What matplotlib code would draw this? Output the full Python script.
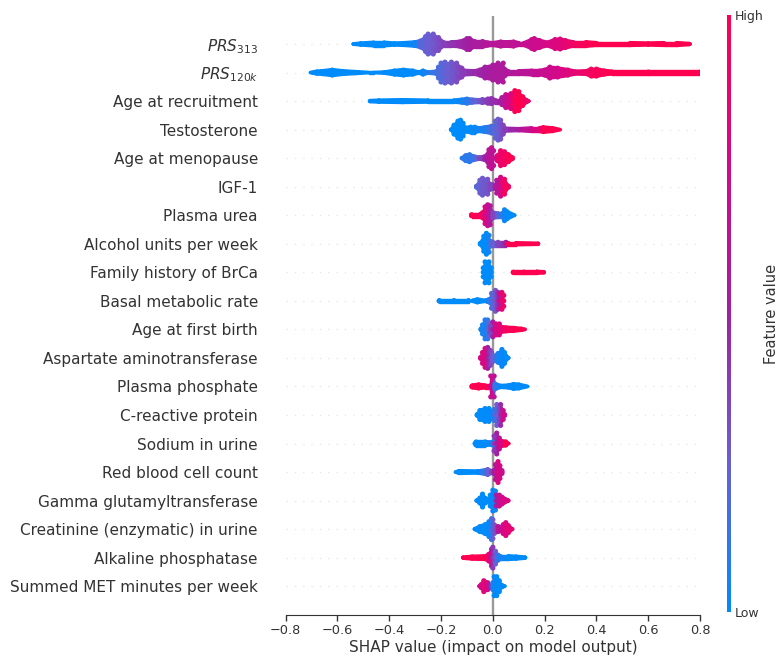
import matplotlib
matplotlib.use("Agg")
import matplotlib.pyplot as plt
import numpy as np
from matplotlib.collections import PolyCollection
from matplotlib.colors import LinearSegmentedColormap, Normalize
from matplotlib.cm import ScalarMappable

features = [r"$PRS_{313}$", r"$PRS_{120k}$", "Age at recruitment", "Testosterone", "Age at menopause", "IGF-1",
            "Plasma urea", "Alcohol units per week", "Family history of BrCa", "Basal metabolic rate",
            "Age at first birth", "Aspartate aminotransferase", "Plasma phosphate", "C-reactive protein",
            "Sodium in urine", "Red blood cell count", "Gamma glutamyltransferase",
            "Creatinine (enzymatic) in urine", "Alkaline phosphatase", "Summed MET minutes per week"]
xticks = [-0.8, -0.6, -0.4, -0.2, 0.0, 0.2, 0.4, 0.6, 0.8]

# per feature: SHAP value, pile size of samples there, mean feature value there
# a pile of 0 marks a gap in the distribution
s01 = [-.54,-.51,-.46,-.42,-.38,-.34,-.30,-.28,-.26,-.25,-.23,-.21,-.19,-.16,-.13,-.10,-.09,-.07,-.04,-.02,0,.03,.05,.08,.10,.12,.15,.16,.18,.21,.24,.26,.28,.31,.36,.40,.53,.60,.66,.71,.76]
p01 = [1.5,2.5,3.5,3.5,2.5,3,4,5.5,10,12.5,12.5,9,4,4,4.5,8,8,5,5,3.5,3,4.5,4,4.5,3,3,7,8,6,3.5,7,7.5,6,4,4,3,3,2.5,3,3,2]
c01 = [0,0,0,0,0,0,.05,.2,.25,.25,.28,.33,.38,.42,.47,.5,.52,.54,.57,.6,.62,.63,.64,.65,.66,.68,.7,.72,.74,.77,.8,.82,.85,.92,.97,1,1,1,1,1,1]
s02 = [-.705,-.68,-.66,-.62,-.58,-.53,-.48,-.46,-.42,-.38,-.345,-.31,-.285,-.27,-.25,-.22,-.21,-.20,-.185,-.16,-.14,-.12,-.11,-.07,-.05,-.03,0,.02,.04,.045,.06,.10,.15,.18,.20,.22,.25,.29,.32,.36,.38,.40,.43,.46,.60,.80]
p02 = [1.5,3,3.5,5,3.5,2.5,1.5,1.5,2,4,5,4,2,4,2,3,8,12,13,13,12,7,4,3.5,5,8,10,12,12,6,3.5,3.5,4,4,5,8,7,5,3,3.5,6,6,4,3,3,3]
c02 = [0,0,0,0,0,0,0,0,0,0,0,0,0,.03,.08,.15,.18,.2,.24,.28,.32,.38,.4,.46,.48,.5,.55,.56,.57,.57,.58,.6,.65,.68,.7,.72,.75,.82,.86,.9,.95,.96,.98,1,1,1]
s03 = [-.475,-.44,-.35,-.25,-.15,-.12,-.10,-.08,-.05,-.04,-.03,-.02,-.005,.01,.03,.035,.05,.07,.085,.10,.115,.13,.14]
p03 = [2,2.5,3,2.5,2.5,3.5,4.5,3.5,3,4,3,4.5,5,3,3,6,9,10,13,12,7,3,1.5]
c03 = [0,0,0,0,0,.05,.1,.2,.3,.32,.36,.4,.43,.46,.5,.55,.7,.8,1,1,1,.9,.9]
s04 = [-.162,-.15,-.135,-.125,-.115,-.105,-.085,-.07,-.055,-.03,-.005,.005,.01,.02,.03,.04,.05,.10,.15,.18,.195,.23,.26]
p04 = [2,7,11,12,9,4,5,5,3.5,4.5,6,6,11,13,12,7,3,2.5,3.5,3.5,4.5,3.5,1.5]
c04 = [0,0,0,0,0,0,0,.02,.04,.08,.18,.2,.22,.25,.3,.35,.4,.55,.75,.85,1,1,1]
s05 = [-.12,-.105,-.09,-.075,-.05,-.03,-.015,-.005,.003,.004,.016,.017,.03,.045,.06,.075]
p05 = [2,5,6,4,2.5,4,11,13,10,0,0,5,10,9,6,3]
c05 = [.1,.1,.1,.15,.35,.5,.62,.65,.66,.66,.85,.85,.9,.92,1,1]
s06 = [-.063,-.05,-.04,-.02,-.01,.01,.015,.03,.045,.06]
p06 = [3,9,11,10,5,4,9,12,10,3]
c06 = [.2,.25,.27,.3,.35,.55,.6,.72,.95,.95]
s07 = [-.082,-.05,-.04,-.03,-.02,-.01,0,.02,.035,.045,.055,.085]
p07 = [3,3,5,11,13,12,5,4,4,8,6,1.5]
c07 = [1,.95,.9,.75,.68,.6,.35,.2,.1,.03,0,0]
s08 = [-.048,-.035,-.025,-.015,-.01,0,.02,.05,.06,.09,.175]
p08 = [3,10,13,11,5,4,4,4,2.5,2.5,2]
c08 = [0,0,0,.05,.1,.25,.35,.5,1,1,1]
s09 = [-.037,-.03,-.015,-.007,-.006,.078,.079,.12,.17,.197]
p09 = [7,13,13,7,0,0,2.5,2.5,2.5,2]
c09 = [0,0,0,0,0,1,1,1,1,1]
s10 = [-.207,-.15,-.094,-.093,-.08,-.079,-.06,-.03,-.02,-.012,-.005,.01,.02,.025,.03,.035,.042]
p10 = [2.5,2.5,2.5,0,0,2,3.5,2,3,4,10,13,11,7,10,11,8]
c10 = [0,0,0,0,0,0,0,0,.05,.1,.2,.3,.45,.55,.8,.85,.9]
s11 = [-.045,-.04,-.03,-.02,-.015,-.01,0,.01,.012,.025,.03,.05,.08,.11,.125]
p11 = [3,7,12,12,9,6,10,7,8,8,5,4,3.5,2.5,1.5]
c11 = [.05,.05,.08,.1,.2,.35,.55,.65,.75,.8,.85,.95,1,1,1]
s12 = [-.047,-.04,-.03,-.02,-.01,-.005,0,.015,.02,.035,.045,.06]
p12 = [3,8,12,13,10,8,5,5,7,11,8,2]
c12 = [.75,.78,.8,.5,.4,.32,.25,.12,.05,.02,0,0]
s13 = [-.08,-.055,-.03,-.01,-.008,.005,.008,.03,.06,.08,.10,.135]
p13 = [3,4,3,3,13,13,5,2.5,3,4.5,4,1.5]
c13 = [1,1,1,.85,.7,.65,.1,0,0,0,0,0]
s14 = [-.06,-.05,-.03,-.015,-.005,.005,.015,.03,.04,.045]
p14 = [3,7,9,9,6,8,13,13,7,3]
c14 = [0,0,0,0,.02,.15,.25,.45,.7,.75]
s15 = [-.07,-.065,-.03,-.01,0,.005,.015,.025,.03,.05,.062]
p15 = [2,4,4,3,4,10,13,8,5,4,1.5]
c15 = [0,0,0,0,.1,.4,.5,.6,.8,1,1]
s16 = [-.145,-.13,-.06,-.03,-.02,-.005,.005,.01,.02,.027,.035]
p16 = [1.5,3,2.5,4,5,3,4,10,13,9,4]
c16 = [0,0,0,.15,.25,.35,.5,.65,.8,.78,.7]
s17 = [-.063,-.05,-.04,-.03,-.015,-.01,0,.01,.013,.025,.035,.06]
p17 = [2,5,9,5,3,8,13,12,8,8,6,2]
c17 = [0,0,0,0,0,0,.02,.05,.5,.7,.75,.8]
s18 = [-.07,-.05,-.03,-.015,-.005,0,.005,.02,.035,.04,.05,.06,.075]
p18 = [2,5,7,10,13,12,7,5,4,7,9,6,2]
c18 = [0,0,0,.03,.1,.25,.3,.6,.7,.75,.8,.85,.85]
s19 = [-.115,-.08,-.03,-.015,-.005,0,.01,.02,.03,.06,.09,.125]
p19 = [2,3,3.5,6,11,13,9,5,3.5,3.5,3,2]
c19 = [1,1,1,.8,.55,.4,.25,.12,.05,0,0,0]
s20 = [-.052,-.045,-.035,-.02,-.015,-.005,0,.005,.015,.025,.035,.047]
p20 = [2,4,8,6,3,3,6,12,12,8,3,1.5]
c20 = [.7,.75,.85,.75,.6,.4,.05,.02,0,0,0,0]

shap_vals = [s01,s02,s03,s04,s05,s06,s07,s08,s09,s10,s11,s12,s13,s14,s15,s16,s17,s18,s19,s20]
piles = [p01,p02,p03,p04,p05,p06,p07,p08,p09,p10,p11,p12,p13,p14,p15,p16,p17,p18,p19,p20]
feat_vals = [c01,c02,c03,c04,c05,c06,c07,c08,c09,c10,c11,c12,c13,c14,c15,c16,c17,c18,c19,c20]

cmap = LinearSegmentedColormap.from_list("red_blue", ["#008bfb", "#6a5fd2", "#a11fa3", "#d3098a", "#ff0051"])
norm = Normalize(0, 1)
W, H = 778, 657
TEXT = "#333333"

fig = plt.figure(figsize=(W/100, H/100), dpi=100, facecolor="white")
ax = fig.add_axes([285.7/W, 1-614.7/H, (700-285.7)/W, (614.7-15.5)/H])
n = len(features)
ROW_PX = 28.5
DOT_R = 2.6  # dot radius, pixels
for i, (s, p, c) in enumerate(zip(shap_vals, piles, feat_vals)):
    y0 = n-1-i
    ax.axhline(y0, color="#cccccc", lw=1, dashes=(1, 5), alpha=0.45, zorder=1)
    s, p, c = map(np.asarray, (s, p, c))
    h = p*0.8/ROW_PX
    polys, cols = [], []
    for j in range(len(s)-1):
        if p[j] == 0 or p[j+1] == 0:
            continue
        polys.append([(s[j], y0-h[j]), (s[j+1], y0-h[j+1]), (s[j+1], y0+h[j+1]), (s[j], y0+h[j])])
        cols.append((c[j]+c[j+1])/2)
    ax.add_collection(PolyCollection(polys, array=np.array(cols), cmap=cmap, norm=norm,
                                     linewidths=1.0, edgecolors="face", zorder=3))
    # dot stack at every reading: outer dots give the lumpy swarm outline
    xs, ys, cs, sz = [], [], [], []
    for a, b, d in zip(s, p, c):
        if b == 0:
            continue
        r = min(b, DOT_R)
        off = max(b-r, 0)/ROW_PX
        for y in (y0-off, y0, y0+off):
            xs.append(a); ys.append(y); cs.append(d); sz.append((2*r*0.72)**2)
    ax.scatter(xs, ys, c=cs, s=sz, cmap=cmap, norm=norm, linewidths=0, zorder=3)
ax.axvline(0, color="#999999", lw=1.7, zorder=2)
ax.set_xlim(-0.8, 0.8)
ax.set_ylim(-1, n)
ax.set_yticks(range(n))
ax.set_yticklabels(features[::-1], fontsize=11.0, color=TEXT)
ax.tick_params(axis="y", length=0, pad=20)
ax.set_xticks(xticks)
ax.set_xticklabels([f"{t:.1f}".replace("-", "\u2212") for t in xticks], fontsize=9.3, color=TEXT)
ax.tick_params(axis="x", length=4, width=1, color=TEXT, pad=3)
for sp in ("top", "left", "right"):
    ax.spines[sp].set_visible(False)
ax.spines["bottom"].set_color(TEXT)
ax.set_xlabel("SHAP value (impact on model output)", fontsize=11, color=TEXT, labelpad=2)

cax = fig.add_axes([726.5/W, 1-612/H, 4.2/W, (612-15)/H])
cb = fig.colorbar(ScalarMappable(norm=norm, cmap=cmap), cax=cax, ticks=[0, 1])
cb.outline.set_visible(False)
cb.set_ticklabels(["Low", "High"], fontsize=9, color=TEXT)
cb.ax.tick_params(length=0, pad=3)
cb.set_label("Feature value", fontsize=10.5, color=TEXT, labelpad=0)

fig.savefig("out.png", dpi=100)
